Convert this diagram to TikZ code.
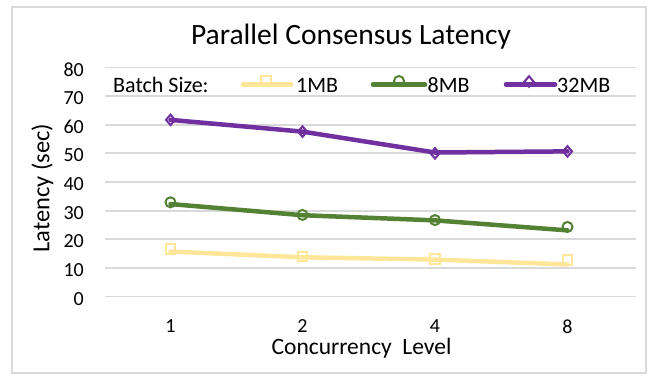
\documentclass[tikz,border=0pt]{standalone}
\usepackage{fontspec}
\setmainfont{Carlito}
\usetikzlibrary{shapes.geometric}
\definecolor{cyel}{HTML}{FFE699}
\definecolor{cgrn}{HTML}{548235}
\definecolor{cpur}{HTML}{7030A0}
\definecolor{cgrid}{HTML}{D9D9D9}
\newcommand\vy[1]{296.5-2.8625*#1}
\tikzset{
 gridline/.style={draw=cgrid, line width=1.8pt},
 frameline/.style={draw=cgrid, line width=2pt},
 ser/.style={line width=4.5pt, line cap=round, line join=round},
 mk/.style={draw, fill=white, line width=2pt, inner sep=0pt, outer sep=0pt},
 sqmark/.style={mk, rectangle, minimum size=9.5pt},
 cimark/.style={mk, circle, minimum size=10pt},
 dimark/.style={mk, diamond, minimum width=9pt, minimum height=10.5pt},
 ticklab/.style={font=\fontsize{20}{24}\selectfont, inner sep=0pt},
 legtext/.style={font=\fontsize{22}{26}\selectfont, inner sep=0pt, anchor=base west},
 axtitle/.style={font=\fontsize{23.5}{28}\selectfont, inner sep=0pt},
 titletext/.style={font=\fontsize{29.5}{34}\selectfont, inner sep=0pt, anchor=base},
}
\begin{document}
\begin{tikzpicture}[x=1pt,y=-1pt]
\useasboundingbox[fill=white] (0,0) rectangle (650,378);
\draw[frameline] (11.5,6.5) rectangle (645.5,372.5);
% title
\node[titletext] (title) at (351,44.5) {Parallel Consensus Latency};
% grid and y labels
\foreach \v in {0,10,...,80}{
  \draw[gridline] (105,{\vy{\v}}) -- (636,{\vy{\v}});
  \node[ticklab, anchor=east] (yl\v) at (84,{\vy{\v}+2.1}) {\v};
}
% x labels
\node[ticklab] (xl1) at (170.5,326.5) {1};
\node[ticklab] (xl2) at (302.5,326.5) {2};
\node[ticklab] (xl4) at (435,326.5) {4};
\node[ticklab] (xl8) at (567.5,326.5) {8};
\node[axtitle, anchor=base] (xtitle) at (361.5,354) {Concurrency\ \ Level};
\node[axtitle, rotate=90, font=\fontsize{24.5}{28}\selectfont] (ytitle) at (42.5,188) {Latency (sec)};
% legend
\node[legtext] (lgb) at (113,92.5) {Batch Size:};
\coordinate (ly1) at (243,84.5); \coordinate (ly2) at (291,84.5);
\coordinate (lg1) at (373,84.5); \coordinate (lg2) at (425,84.5);
\coordinate (lp1) at (506,84.5); \coordinate (lp2) at (555,84.5);
\node[sqmark, draw=cyel] (lym) at (266,81) {};
\node[cimark, draw=cgrn] (lgm) at (399,81) {};
\node[dimark, draw=cpur] (lpm) at (529,81.5) {};
\draw[ser, cyel] (ly1) -- (ly2);
\draw[ser, cgrn] (lg1) -- (lg2);
\draw[ser, cpur] (lp1) -- (lp2);
\node[legtext] (lyt) at (296,92.5) {1MB};
\node[legtext] (lgt) at (427.5,92.5) {8MB};
\node[legtext] (lpt) at (557,92.5) {32MB};
% 1MB series
\node[sqmark, draw=cyel] (ym1) at (170.5,{\vy{16.6}}) {};
\node[sqmark, draw=cyel] (ym2) at (302.5,{\vy{13.9}}) {};
\node[sqmark, draw=cyel] (ym3) at (435,{\vy{13.1}}) {};
\node[sqmark, draw=cyel] (ym4) at (567.5,{\vy{12.7}}) {};
\coordinate (y1) at (170.5,{\vy{15.7}});
\coordinate (y2) at (302.5,{\vy{13.7}});
\coordinate (y3) at (435,{\vy{12.9}});
\coordinate (y4) at (567.5,{\vy{11.2}});
\draw[ser, cyel] (y1) -- (y2) -- (y3) -- (y4);
% 8MB series
\node[cimark, draw=cgrn] (gm1) at (170.5,{\vy{32.9}}) {};
\node[cimark, draw=cgrn] (gm2) at (302.5,{\vy{28.5}}) {};
\node[cimark, draw=cgrn] (gm3) at (435,{\vy{26.7}}) {};
\node[cimark, draw=cgrn] (gm4) at (567.5,{\vy{24.3}}) {};
\coordinate (g1) at (170.5,{\vy{32.3}});
\coordinate (g2) at (302.5,{\vy{28.4}});
\coordinate (g3) at (435,{\vy{26.6}});
\coordinate (g4) at (567.5,{\vy{23.1}});
\draw[ser, cgrn] (g1) -- (g2) -- (g3) -- (g4);
% 32MB series
\node[dimark, draw=cpur] (pm1) at (170.5,{\vy{61.7}}) {};
\node[dimark, draw=cpur] (pm2) at (302.5,{\vy{57.6}}) {};
\node[dimark, draw=cpur] (pm3) at (435,{\vy{50.0}}) {};
\node[dimark, draw=cpur] (pm4) at (567.5,{\vy{50.7}}) {};
\coordinate (p1) at (170.5,{\vy{61.7}});
\coordinate (p2) at (302.5,{\vy{57.6}});
\coordinate (p3) at (435,{\vy{50.3}});
\coordinate (p4) at (567.5,{\vy{50.7}});
\draw[ser, cpur] (p1) -- (p2) -- (p3) -- (p4);
\end{tikzpicture}
\end{document}
